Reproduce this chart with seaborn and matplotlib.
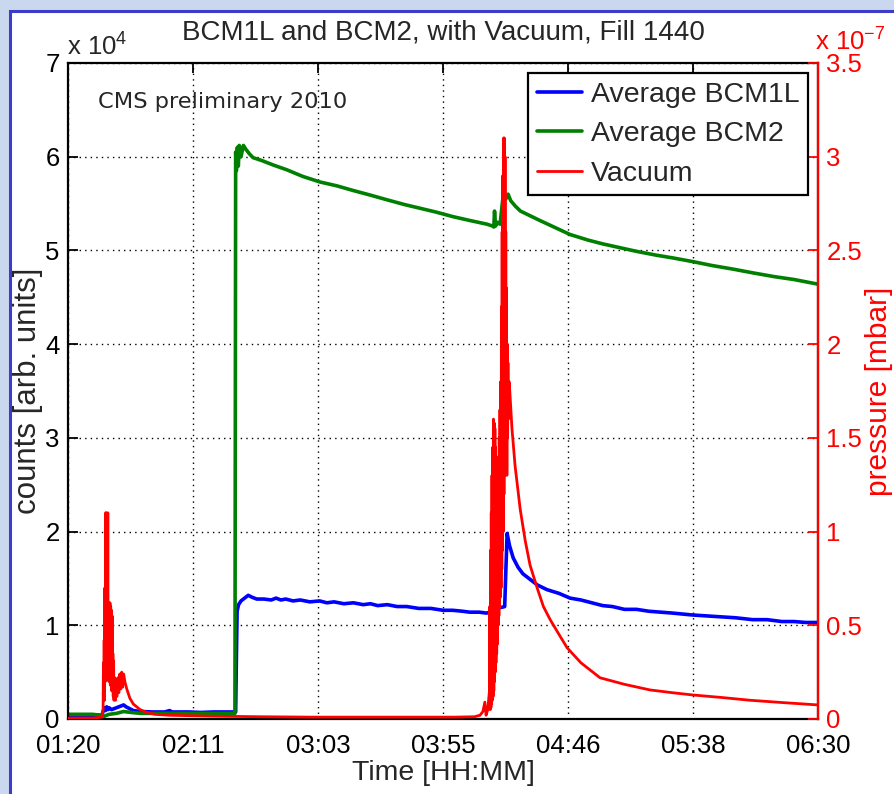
import numpy as np
import pandas as pd
import matplotlib
matplotlib.use("Agg")
import matplotlib.pyplot as plt
from matplotlib.patches import Rectangle
from matplotlib.ticker import FuncFormatter
import seaborn as sns

# time axis: minutes after 01:20
time_ticks = ["01:20", "02:11", "03:03", "03:55", "04:46", "05:38", "06:30"]
t_span = 310

# Average BCM1L, counts in units of 1e4
t_bcm1l = [0, 5, 10, 14.0, 14.5, 15.0, 15.5, 16.0, 16.5, 17.0, 18.0, 19.0, 20.0, 21.0, 22.0,
           23.0, 24.0, 25.5, 27.0, 30.0, 35, 40, 42, 43, 50, 55, 60, 65, 69.3, 69.6, 69.9,
           70.5, 71.5, 73, 74.5, 76, 78, 81, 84, 86, 88, 90, 93, 96, 100, 104, 107, 110, 114,
           118, 122, 125, 128, 132, 136, 140, 145, 150, 155, 159, 163, 166, 170, 173, 174.5,
           175.5, 177, 179, 180.5, 181.0, 181.5, 182.5, 184, 186, 188, 191, 194, 198, 203,
           207.5, 212, 215, 221, 225, 230, 235, 240, 245, 250, 258, 264, 270, 276, 283, 289,
           295, 300, 305, 310]
bcm1l = [0.04, 0.04, 0.04, 0.04, 0.08, 0.12, 0.09, 0.13, 0.10, 0.12, 0.10, 0.11, 0.12, 0.13, 0.14,
         0.15, 0.13, 0.11, 0.09, 0.08, 0.075, 0.075, 0.09, 0.075, 0.075, 0.07, 0.075, 0.075, 0.075,
         0.65, 1.15, 1.22, 1.26, 1.29, 1.32, 1.30, 1.28, 1.28, 1.27, 1.29, 1.27, 1.28, 1.26, 1.27,
         1.25, 1.26, 1.24, 1.25, 1.23, 1.24, 1.22, 1.23, 1.21, 1.22, 1.20, 1.20, 1.18, 1.18, 1.16,
         1.16, 1.15, 1.14, 1.14, 1.13, 1.14, 1.17, 1.18, 1.19, 1.20, 1.60, 1.98, 1.85, 1.72, 1.62,
         1.55, 1.49, 1.43, 1.38, 1.34, 1.29, 1.27, 1.25, 1.21, 1.20, 1.17, 1.17, 1.15, 1.14, 1.13,
         1.11, 1.10, 1.09, 1.08, 1.06, 1.06, 1.04, 1.04, 1.03, 1.03]

# Average BCM2, counts in units of 1e4
t_bcm2 = [0, 10, 14.0, 15.0, 17.0, 20.0, 23.0, 26.0, 30.0, 40, 50, 60, 69.0, 69.3, 69.6, 70.0,
          70.4, 70.8, 71.5, 72.5, 73.5, 75, 76.5, 80, 85, 90.5, 97, 104.2, 111, 117.8, 125,
          131.9, 139, 145.5, 152, 159.2, 166, 173.2, 175.5, 176.0, 176.3, 176.7, 177.5, 178.6,
          179.3, 179.8, 181.0, 181.9, 183, 185, 187, 191, 195, 200, 207.5, 215, 221, 228, 235,
          243, 250, 258.4, 266, 275, 283.2, 292, 300, 310]
bcm2 = [0.05, 0.05, 0.04, 0.03, 0.05, 0.06, 0.08, 0.07, 0.06, 0.06, 0.06, 0.06, 0.06, 6.05, 5.85,
        6.10, 5.90, 6.12, 6.00, 6.12, 6.08, 6.03, 5.99, 5.96, 5.91, 5.86, 5.79, 5.73, 5.69, 5.64,
        5.59, 5.54, 5.49, 5.45, 5.41, 5.36, 5.32, 5.28, 5.26, 5.25, 5.42, 5.26, 5.30, 5.28, 5.45,
        5.57, 5.55, 5.60, 5.53, 5.47, 5.42, 5.37, 5.32, 5.26, 5.17, 5.11, 5.07, 5.03, 4.99, 4.95,
        4.92, 4.88, 4.84, 4.80, 4.76, 4.72, 4.69, 4.64]

# Vacuum pressure, units of 1e-7 mbar
t_vac = [0, 10, 14.0, 14.5, 14.65, 14.8, 14.95, 15.1, 15.25, 15.4, 15.55, 15.7, 15.85, 16.0,
         16.15, 16.3, 16.45, 16.6, 16.75, 16.9, 17.05, 17.2, 17.35, 17.5, 17.65, 17.8, 17.95,
         18.1, 18.25, 18.4, 18.55, 18.7, 18.85, 19.0, 19.3, 19.6, 19.9, 20.2, 20.6, 21.0, 21.4,
         21.8, 22.2, 22.6, 23.0, 23.5, 24.3, 25.6, 27.0, 29.8, 32.5, 36, 42, 60, 80, 100, 120,
         140, 160, 168, 170.3, 171.5, 172.3, 172.8, 173.5, 174.2, 174.35, 174.5, 174.65, 174.8,
         174.95, 175.1, 175.25, 175.4, 175.55, 175.7, 175.85, 176.0, 176.15, 176.3, 176.45,
         176.6, 176.75, 176.9, 177.05, 177.2, 177.35, 177.5, 177.65, 177.8, 177.95, 178.1,
         178.25, 178.4, 178.55, 178.7, 178.85, 179.0, 179.15, 179.3, 179.45, 179.6, 179.75,
         179.9, 180.05, 180.2, 180.35, 180.5, 180.65, 180.8, 180.95, 181.1, 181.25, 181.4,
         181.55, 181.7, 181.85, 182.0, 182.3, 182.6, 183.5, 184.8, 186.9, 189, 191, 193.9,
         196.5, 199.3, 203, 206.3, 212, 219.9, 230, 240.6, 250, 258.4, 270, 281.9, 295, 310]
vacuum = [0.005, 0.005, 0.01, 0.05, 0.3, 0.1, 0.42, 0.1, 0.7, 0.2, 1.1, 0.25, 1.1, 0.3,
          1.05, 0.35, 1.1, 0.3, 0.62, 0.2, 0.6, 0.25, 0.62, 0.18, 0.6, 0.2, 0.58,
          0.15, 0.55, 0.15, 0.35, 0.12, 0.31, 0.1, 0.22, 0.1, 0.2, 0.12, 0.22, 0.14, 0.24,
          0.16, 0.25, 0.17, 0.24, 0.20, 0.16, 0.11, 0.08, 0.05, 0.035, 0.025, 0.02, 0.015, 0.012,
          0.01, 0.01, 0.01, 0.01, 0.012, 0.02, 0.04, 0.09, 0.02, 0.05, 0.15, 0.6, 0.05, 0.9, 0.06,
          1.1, 0.08, 1.3, 0.1, 1.45, 0.12, 1.6, 0.15, 1.58, 0.2, 1.55,
          0.25, 1.45, 0.3, 1.4, 0.35, 1.3, 0.4, 1.2, 0.5, 1.35, 0.55,
          1.5, 0.6, 1.65, 0.65, 1.8, 0.7, 2.2, 0.8, 2.6, 0.9, 2.9,
          1.0, 3.1, 1.2, 3.1, 1.3, 3.0, 1.5, 2.6, 1.4, 2.3, 1.3,
          2.0, 1.5, 1.9, 1.6, 1.8, 1.75, 1.55, 1.35, 1.12, 0.95, 0.82, 0.70,
          0.60, 0.53, 0.45, 0.38, 0.30, 0.22, 0.185, 0.155, 0.14, 0.128, 0.115, 0.10, 0.088, 0.075]

df_b1 = pd.DataFrame({"t": t_bcm1l, "v": bcm1l})
df_b2 = pd.DataFrame({"t": t_bcm2, "v": bcm2})
df_vac = pd.DataFrame({"t": t_vac, "v": vacuum})

sns.set_theme(style="white")
plt.rcParams["font.family"] = ["Liberation Sans", "DejaVu Sans"]
plt.rcParams["mathtext.fontset"] = "custom"
plt.rcParams["mathtext.rm"] = "Liberation Sans"

FS = 18.5
fig = plt.figure(figsize=(8.95, 7.94), dpi=100, facecolor="#c9d8ee")
fig.patches.append(Rectangle((10.5 / 895, -0.05), 1.1, 783.5 / 794 + 0.05,
                             transform=fig.transFigure, facecolor="white",
                             edgecolor="#3c3cc8", lw=2.2, zorder=-1))

ax = fig.add_axes([68 / 895, 75 / 794, 750 / 895, 656 / 794])
ax2 = ax.twinx()

sns.lineplot(data=df_b1, x="t", y="v", ax=ax, color="#0000ff", lw=2.6,
             estimator=None, sort=False, label="Average BCM1L")
sns.lineplot(data=df_b2, x="t", y="v", ax=ax, color="#008000", lw=2.6,
             estimator=None, sort=False, label="Average BCM2")
sns.lineplot(data=df_vac, x="t", y="v", ax=ax2, color="#ff0000", lw=2.0,
             estimator=None, sort=False, label="Vacuum")

ax.set_xlim(0, t_span)
ax.set_ylim(0, 7)
ax2.set_ylim(0, 3.5)
ax.set_xticks(np.linspace(0, t_span, len(time_ticks)))
ax.set_xticklabels(time_ticks)
ax.set_yticks(range(8))
ax2.set_yticks(np.arange(0, 3.51, 0.5))
ax2.yaxis.set_major_formatter(FuncFormatter(lambda v, p: f"{v:g}"))

ax.grid(True, linestyle=(0, (1, 3)), color="black", lw=1.0)
ax.tick_params(axis="x", direction="in", length=7, width=1.3, labelsize=FS,
               top=True, colors="black", pad=11)
ax.tick_params(axis="y", direction="in", length=7, width=1.3, labelsize=FS,
               right=False, colors="black", pad=6)
ax2.tick_params(axis="y", direction="in", length=7, width=1.3, labelsize=FS,
                colors="#ff0000", pad=6)

for s in ax.spines.values():
    s.set_color("black")
    s.set_linewidth(1.6)
for name, s in ax2.spines.items():
    if name == "right":
        s.set_color("#ff0000")
        s.set_linewidth(1.6)
    else:
        s.set_visible(False)

ax.set_xlabel("Time [HH:MM]", fontsize=20.5, labelpad=1)
ax.set_ylabel("counts [arb. units]", fontsize=22.5, labelpad=2)
ax2.set_ylabel("pressure [mbar]", fontsize=21.5, color="#ff0000", labelpad=2)
ax.set_title("BCM1L and BCM2, with Vacuum, Fill 1440", fontsize=20, pad=17)

ax.text(0.04, 0.94, "CMS preliminary 2010", transform=ax.transAxes,
        fontsize=16.2, family="DejaVu Sans", va="center", ha="left")
fig.text(67 / 895, (794 - 55) / 794, r"x 10$^{\mathregular{4}}$", fontsize=FS,
         va="baseline", ha="left")
fig.text(815 / 895, (794 - 50) / 794, r"x 10$^{\mathregular{-7}}$", fontsize=FS,
         va="baseline", ha="left", color="#ff0000")

h1, l1 = ax.get_legend_handles_labels()
h2, l2 = ax2.get_legend_handles_labels()
ax.get_legend().remove()
ax2.get_legend().remove()
leg = ax2.legend(h1 + h2, l1 + l2, loc="upper right", fontsize=20.5, frameon=True,
                 fancybox=False, framealpha=1, edgecolor="black",
                 borderaxespad=0.35, borderpad=0.3, labelspacing=0.48,
                 handlelength=1.6, handletextpad=0.3)
leg.get_frame().set_linewidth(1.6)

fig.savefig("out.png", dpi=100, facecolor=fig.get_facecolor())
